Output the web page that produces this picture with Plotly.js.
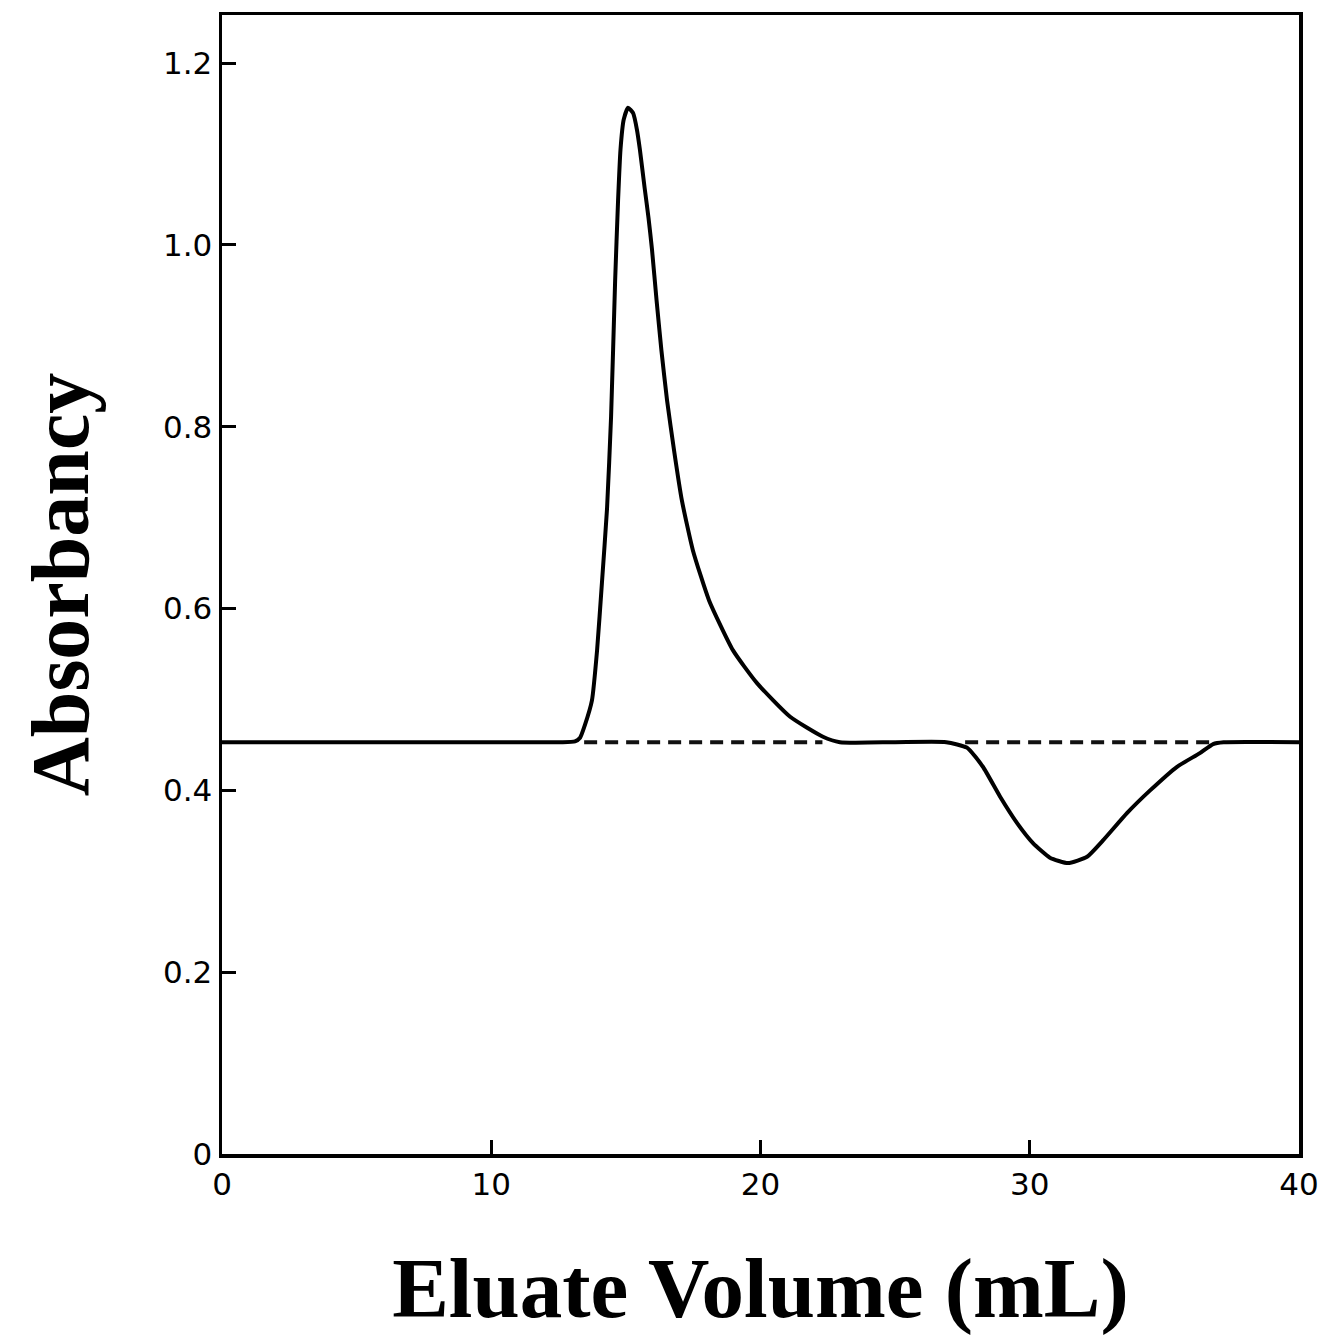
<!DOCTYPE html>
<html>
<head>
<meta charset="utf-8">
<script src="https://cdn.plot.ly/plotly-3.0.1.min.js"></script>
<style>html,body{margin:0;padding:0;background:#fff;}#chart{width:1333px;height:1336px;}</style>
</head>
<body>
<div id="chart"></div>
<script>
// Elution trace (Eluate volume in mL, absorbancy)
const volume = [0, 6, 12.6, 13.11, 13.30, 13.48, 13.74, 13.93, 14.11, 14.30, 14.45, 14.60, 14.71, 14.80, 14.92, 15.08,
  15.27, 15.41, 15.52, 15.70, 15.84, 15.97, 16.14, 16.32, 16.53, 16.79, 17.08, 17.49, 18.09, 18.98, 19.87, 21.10, 22.32, 22.95,
  25, 26.9, 27.67, 28.26, 28.90, 29.53, 30.12, 30.75, 31.42, 32.13, 32.72, 33.61, 34.47, 35.47, 36.32, 36.81, 37.2, 40];
const absorbancy = [0.453, 0.453, 0.453, 0.454, 0.458, 0.472, 0.499, 0.554, 0.628, 0.710, 0.811, 0.960, 1.049, 1.105, 1.138, 1.151,
  1.145, 1.127, 1.105, 1.062, 1.030, 0.995, 0.939, 0.884, 0.829, 0.774, 0.719, 0.664, 0.609, 0.554, 0.518, 0.481, 0.459, 0.453,
  0.453, 0.453, 0.447, 0.426, 0.393, 0.364, 0.342, 0.326, 0.320, 0.327, 0.345, 0.375, 0.400, 0.426, 0.441, 0.451, 0.453, 0.453];

// Dashed baseline segments under the peak and the trough
const base1X = [13.45, 22.3];
const base1Y = [0.453, 0.453];
const base2X = [27.6, 36.8];
const base2Y = [0.453, 0.453];

const xTicks = [0, 10, 20, 30, 40];
const xTickText = ['0', '10', '20', '30', '40'];
const yTicks = [0, 0.2, 0.4, 0.6, 0.8, 1.0, 1.2];
const yTickText = ['0', '0.2', '0.4', '0.6', '0.8', '1.0', '1.2'];

const traces = [
  {x: base1X, y: base1Y, mode: 'lines', line: {color: '#111', width: 4, dash: '13px,8px'}, hoverinfo: 'skip'},
  {x: base2X, y: base2Y, mode: 'lines', line: {color: '#111', width: 4, dash: '13px,8px'}, hoverinfo: 'skip'},
  {x: volume, y: absorbancy, mode: 'lines', line: {color: '#000', width: 4, shape: 'spline', smoothing: 0.5}}
];

const tickFont = {family: 'DejaVu Sans, sans-serif', size: 31, color: '#000'};
const titleFont = {family: 'Liberation Serif, serif', size: 85, color: '#000', weight: 'bold'};
const yTitleFont = {family: 'Liberation Serif, serif', size: 82, color: '#000', weight: 'bold'};

const layout = {
  width: 1333, height: 1336,
  margin: {l: 222, r: 34, t: 15, b: 182},
  paper_bgcolor: '#fff', plot_bgcolor: '#fff',
  showlegend: false,
  xaxis: {
    range: [0, 40], tickvals: xTicks, ticktext: xTickText,
    ticks: 'inside', ticklen: 14, tickwidth: 3, tickcolor: '#000',
    showline: true, linewidth: 3.5, linecolor: '#000', mirror: true,
    showgrid: false, zeroline: false, tickfont: tickFont,
    title: {text: 'Eluate Volume (mL)', font: titleFont, standoff: 60}
  },
  yaxis: {
    range: [0, 1.253], tickvals: yTicks, ticktext: yTickText,
    ticks: 'inside', ticklen: 14, tickwidth: 3, tickcolor: '#000',
    showline: true, linewidth: 3.5, linecolor: '#000', mirror: true,
    showgrid: false, zeroline: false, tickfont: tickFont,
    title: {text: 'Absorbancy', font: yTitleFont, standoff: 48}
  }
};

Plotly.newPlot('chart', traces, layout, {staticPlot: true, displayModeBar: false});
</script>
</body>
</html>
